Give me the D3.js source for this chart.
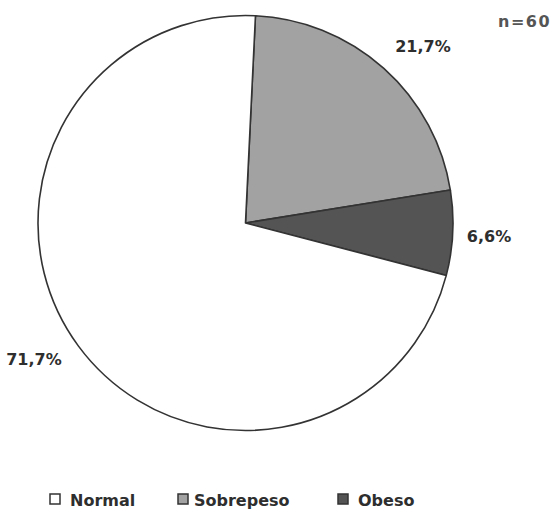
<!DOCTYPE html>
<html>
<head>
<meta charset="utf-8">
<script src="https://cdn.jsdelivr.net/npm/d3@7"></script>
<style>
  html, body { margin: 0; padding: 0; background: #fff; }
  svg { display: block; }
  text { font-family: "DejaVu Sans", Verdana, sans-serif; font-weight: bold; fill: #2e2e2e; }
</style>
</head>
<body>
<svg id="chart" width="552" height="511"></svg>
<script>
// Weight status distribution (n=60)
const categories = ["Sobrepeso", "Obeso", "Normal"];
const values = [21.7, 6.6, 71.7];
const valueLabels = ["21,7%", "6,6%", "71,7%"];
const legendOrder = ["Normal", "Sobrepeso", "Obeso"];
const sampleNote = "n=60";

const fills = { Normal: "#ffffff", Sobrepeso: "#a2a2a2", Obeso: "#545454" };

const svg = d3.select("#chart");
const cx = 245.5, cy = 223, r = 207.5;
const start = 0.048; // first slice begins just past 12 o'clock

const pie = d3.pie().sort(null).value(d => d.value)
  .startAngle(start).endAngle(start + 2 * Math.PI);
const arcs = pie(categories.map((c, i) => ({ cat: c, value: values[i], label: valueLabels[i] })));
const arc = d3.arc().innerRadius(0).outerRadius(r);

const g = svg.append("g").attr("transform", `translate(${cx},${cy})`);
g.selectAll("path")
  .data(arcs)
  .join("path")
  .attr("d", arc)
  .attr("fill", d => fills[d.data.cat])
  .attr("stroke", "#333")
  .attr("stroke-width", 1.6)
  .attr("stroke-linejoin", "round");

// percentage labels placed outside each slice
const labelPos = {
  Sobrepeso: [423, 52],
  Obeso: [489, 242],
  Normal: [34, 365]
};
svg.selectAll("text.val")
  .data(arcs)
  .join("text")
  .attr("class", "val")
  .attr("x", d => labelPos[d.data.cat][0])
  .attr("y", d => labelPos[d.data.cat][1])
  .attr("text-anchor", "middle")
  .attr("font-size", 16)
  .text(d => d.data.label);

svg.append("text")
  .attr("x", 498)
  .attr("y", 27)
  .attr("font-size", 16)
  .attr("letter-spacing", 1.5)
  .style("fill", "#555")
  .text(sampleNote);

// legend
const legendBox = { Normal: 50, Sobrepeso: 178, Obeso: 338 };
const legendText = { Normal: 70, Sobrepeso: 194, Obeso: 358 };
const lg = svg.append("g");
legendOrder.forEach(c => {
  lg.append("rect")
    .attr("x", legendBox[c])
    .attr("y", 494)
    .attr("width", 10)
    .attr("height", 10)
    .attr("fill", fills[c])
    .attr("stroke", "#333")
    .attr("stroke-width", 1.5);
  lg.append("text")
    .attr("x", legendText[c])
    .attr("y", 506)
    .attr("font-size", 16)
    .text(c);
});
</script>
</body>
</html>
